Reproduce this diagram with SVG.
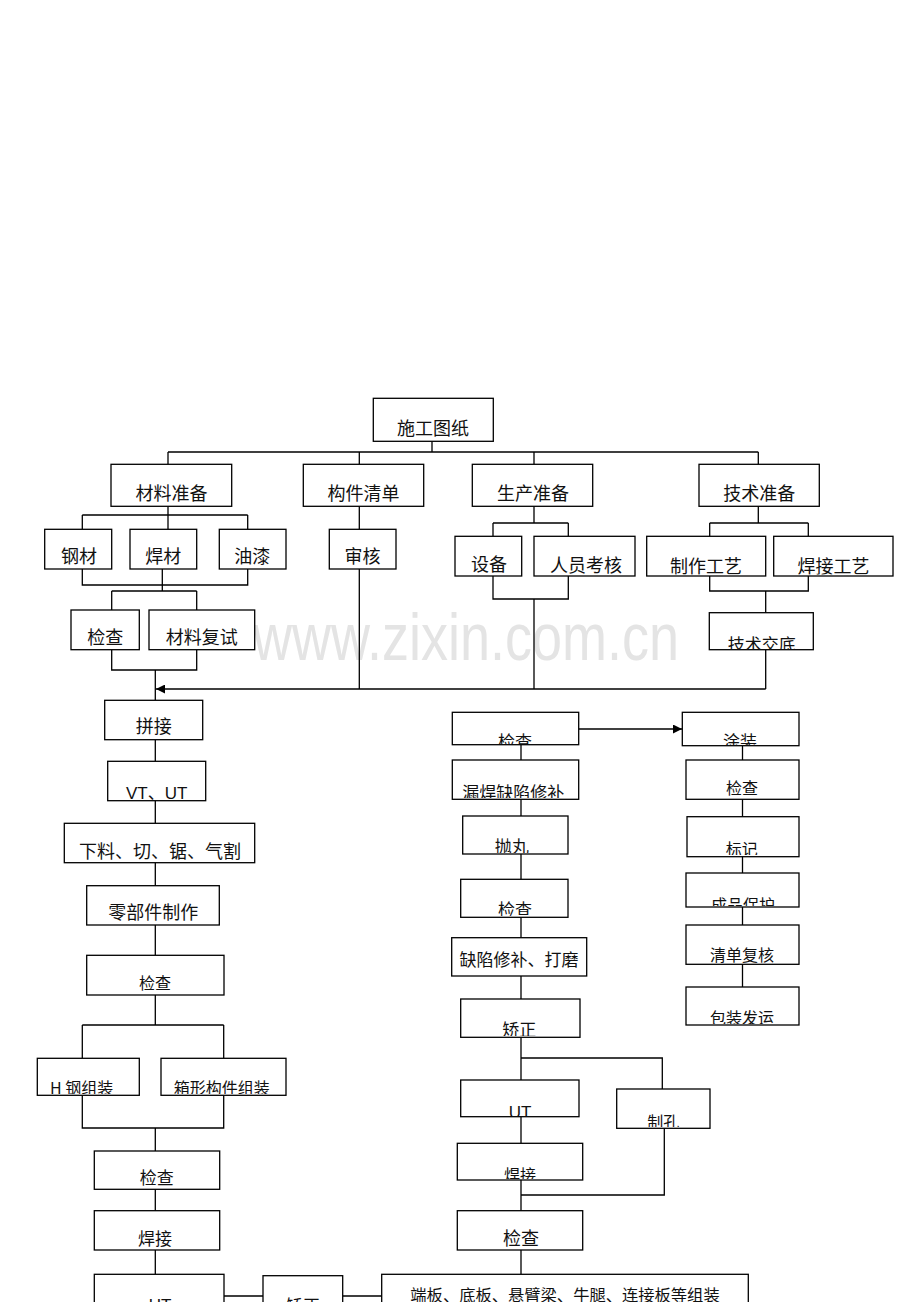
<svg xmlns="http://www.w3.org/2000/svg" width="920" height="1302" viewBox="0 0 920 1302">
<style>
.b{fill:#fff;stroke:#000;stroke-width:1.3}
.c{fill:none;stroke:#000;stroke-width:1.3}
.t{font-family:"Noto Sans CJK SC","Liberation Sans",sans-serif;font-size:17px;fill:#111;text-anchor:middle}
.s{font-size:16px}
.l{font-size:18px}
.w{font-family:"Liberation Sans",Arial,sans-serif;font-size:54px;fill:#e4e4e4}
</style>
<defs>
<marker id="ah" viewBox="0 0 10 10" refX="10" refY="5" markerWidth="10" markerHeight="9" markerUnits="userSpaceOnUse" orient="auto">
<path d="M0,0 L10,5 L0,10 z" fill="#000"/>
</marker>
<clipPath id="k1"><rect x="374" y="399" width="118" height="41"/></clipPath>
<clipPath id="k2"><rect x="112" y="465" width="119" height="40"/></clipPath>
<clipPath id="k3"><rect x="304" y="465" width="119" height="40"/></clipPath>
<clipPath id="k4"><rect x="473" y="465" width="119" height="40"/></clipPath>
<clipPath id="k5"><rect x="700" y="465" width="118" height="40"/></clipPath>
<clipPath id="k6"><rect x="46" y="530" width="65" height="38"/></clipPath>
<clipPath id="k7"><rect x="131" y="530" width="65" height="38"/></clipPath>
<clipPath id="k8"><rect x="220" y="530" width="65" height="38"/></clipPath>
<clipPath id="k9"><rect x="330" y="530" width="65" height="38"/></clipPath>
<clipPath id="k10"><rect x="72" y="611" width="66" height="38"/></clipPath>
<clipPath id="k11"><rect x="150" y="611" width="104" height="38"/></clipPath>
<clipPath id="k12"><rect x="456" y="537" width="65" height="38"/></clipPath>
<clipPath id="k13"><rect x="535" y="537" width="99" height="38"/></clipPath>
<clipPath id="k14"><rect x="648" y="537" width="117" height="37.5"/></clipPath>
<clipPath id="k15"><rect x="775" y="537" width="117" height="37.5"/></clipPath>
<clipPath id="k16"><rect x="710" y="614" width="102" height="35"/></clipPath>
<clipPath id="k17"><rect x="106" y="701" width="96" height="38"/></clipPath>
<clipPath id="k18"><rect x="109" y="762" width="96" height="38"/></clipPath>
<clipPath id="k19"><rect x="65" y="824" width="188" height="38"/></clipPath>
<clipPath id="k20"><rect x="88" y="887" width="130" height="37"/></clipPath>
<clipPath id="k21"><rect x="88" y="956" width="135" height="38"/></clipPath>
<clipPath id="k22"><rect x="38" y="1059" width="100" height="35"/></clipPath>
<clipPath id="k23"><rect x="162" y="1059" width="123" height="35"/></clipPath>
<clipPath id="k24"><rect x="95" y="1152" width="124" height="36"/></clipPath>
<clipPath id="k25"><rect x="95" y="1212" width="124" height="37"/></clipPath>
<clipPath id="k29"><rect x="453" y="713" width="125" height="31"/></clipPath>
<clipPath id="k30"><rect x="683" y="713" width="115" height="32"/></clipPath>
<clipPath id="k31"><rect x="453" y="761" width="125" height="37"/></clipPath>
<clipPath id="k32"><rect x="464" y="817" width="103" height="36"/></clipPath>
<clipPath id="k33"><rect x="462" y="880" width="105" height="36"/></clipPath>
<clipPath id="k34"><rect x="453" y="939" width="133" height="36"/></clipPath>
<clipPath id="k35"><rect x="462" y="1000" width="117" height="36"/></clipPath>
<clipPath id="k36"><rect x="687" y="761" width="111" height="37"/></clipPath>
<clipPath id="k37"><rect x="688" y="818" width="110" height="37"/></clipPath>
<clipPath id="k38"><rect x="687" y="874" width="111" height="32"/></clipPath>
<clipPath id="k39"><rect x="687" y="926" width="111" height="37"/></clipPath>
<clipPath id="k40"><rect x="687" y="988" width="111" height="36"/></clipPath>
<clipPath id="k41"><rect x="462" y="1081" width="116" height="35"/></clipPath>
<clipPath id="k42"><rect x="618" y="1090" width="91" height="37"/></clipPath>
<clipPath id="k43"><rect x="458" y="1144" width="124" height="35"/></clipPath>
<clipPath id="k44"><rect x="458" y="1212" width="124" height="37"/></clipPath>
</defs>
<rect x="0" y="0" width="920" height="1302" fill="#fff"/>
<text class="w" x="0" y="0" transform="translate(253,660) scale(1,1.25)">www.zixin.com.cn</text>

<g id="connectors">
<path class="c" d="M432,441 V452 M168,452 H758.3 M168,452 V464 M359.3,452 V464 M534,452 V464 M758.3,452 V464"/>
<path class="c" d="M168,506 V515 M82.3,515 H247.7 M82.3,515 V529 M168,515 V529 M247.7,515 V529"/>
<path class="c" d="M82.3,569 V585 H247.7 V569 M162.3,569 V591 M111.7,591 H196.7 M111.7,591 V610 M196.7,591 V610"/>
<path class="c" d="M111.7,650 V670 H196.7 V650 M155.3,670 V700"/>
<path class="c" d="M359.3,506 V529 M359.3,569 V689"/>
<path class="c" d="M534,506 V523 M493,523 H568.3 M493,523 V536 M568.3,523 V536 M493,576 V599 H568.3 V576 M534,599 V689"/>
<path class="c" d="M758.3,506 V523 M709.7,523 H808.3 M709.7,523 V536 M808.3,523 V536 M709.7,576 V591 H808.3 V576 M765.7,591 V613 M765.7,650 V689"/>
<path class="c" d="M765.7,689 H156" marker-end="url(#ah)"/>
<path class="c" d="M155.3,740 V761 M155.3,801 V823 M155.3,863 V886 M155.3,925 V955 M155.3,995 V1025 M82.3,1025 H223.7 M82.3,1025 V1058 M223.7,1025 V1058"/>
<path class="c" d="M82.3,1095 V1128 H223.7 V1095 M155.3,1128 V1151 M155.3,1189 V1211 M155.3,1250 V1274"/>
<path class="c" d="M224,1296 H263 M343,1296 H382"/>
<path class="c" d="M579,729 H682" marker-end="url(#ah)"/>
<path class="c" d="M521,745 V760 M521,799 V816 M521,854 V879 M521,917 V938 M521,976 V999 M521,1037 V1080 M521,1058 H662.3 V1089 M521,1117 V1143 M521,1180 V1211 M664.3,1128 V1195 H521 M521,1250 V1274"/>
<path class="c" d="M742.5,746 V760 M742.5,799 V817 M742.5,856 V873 M742.5,907 V925 M742.5,964 V987"/>
</g>

<g id="n1"><rect class="b" x="373.3" y="398.3" width="120" height="43"/><text class="t l" x="433" y="435" clip-path="url(#k1)">施工图纸</text></g>
<g id="n2"><rect class="b" x="111" y="464.3" width="120.7" height="42"/><text class="t l" x="171.5" y="500" clip-path="url(#k2)">材料准备</text></g>
<g id="n3"><rect class="b" x="303.3" y="464.3" width="120.4" height="42"/><text class="t l" x="363.5" y="500" clip-path="url(#k3)">构件清单</text></g>
<g id="n4"><rect class="b" x="472.3" y="464.3" width="120.4" height="42"/><text class="t l" x="533" y="500" clip-path="url(#k4)">生产准备</text></g>
<g id="n5"><rect class="b" x="699" y="464.3" width="120.3" height="42"/><text class="t l" x="759.3" y="500" clip-path="url(#k5)">技术准备</text></g>
<g id="n6"><rect class="b" x="44.7" y="529.3" width="67" height="39.7"/><text class="t l" x="79" y="563" clip-path="url(#k6)">钢材</text></g>
<g id="n7"><rect class="b" x="130" y="529.3" width="66.7" height="39.7"/><text class="t l" x="163.3" y="563" clip-path="url(#k7)">焊材</text></g>
<g id="n8"><rect class="b" x="219.3" y="529.3" width="66.7" height="39.7"/><text class="t l" x="252.3" y="563" clip-path="url(#k8)">油漆</text></g>
<g id="n9"><rect class="b" x="329.3" y="529.3" width="66.7" height="39.7"/><text class="t l" x="362.5" y="563" clip-path="url(#k9)">审核</text></g>
<g id="n10"><rect class="b" x="71" y="610" width="68.3" height="39.7"/><text class="t l" x="105.3" y="644" clip-path="url(#k10)">检查</text></g>
<g id="n11"><rect class="b" x="149" y="610" width="105.7" height="39.7"/><text class="t l" x="201.7" y="644" clip-path="url(#k11)">材料复试</text></g>
<g id="n12"><rect class="b" x="455" y="536.3" width="66.7" height="39.7"/><text class="t l" x="489" y="571" clip-path="url(#k12)">设备</text></g>
<g id="n13"><rect class="b" x="534" y="536.3" width="101" height="39.7"/><text class="t l" x="586" y="572" clip-path="url(#k13)">人员考核</text></g>
<g id="n14"><rect class="b" x="646.7" y="536.3" width="119" height="39.7"/><text class="t l" x="706" y="573" clip-path="url(#k14)">制作工艺</text></g>
<g id="n15"><rect class="b" x="773.7" y="536.3" width="119.3" height="39.7"/><text class="t l" x="833.5" y="573" clip-path="url(#k15)">焊接工艺</text></g>
<g id="n16"><rect class="b" x="709.3" y="612.7" width="104" height="37"/><text class="t" x="761.7" y="651" clip-path="url(#k16)">技术交底</text></g>
<g id="n17"><rect class="b" x="104.7" y="700.3" width="98" height="39.4"/><text class="t l" x="153.8" y="733" clip-path="url(#k17)">拼接</text></g>
<g id="n18"><rect class="b" x="107.7" y="761.3" width="98" height="39.4"/><text class="t" x="156.7" y="799" style="font-family:'Liberation Sans','Noto Sans CJK SC',sans-serif" clip-path="url(#k18)">VT、UT</text></g>
<g id="n19"><rect class="b" x="64.3" y="823.3" width="190.4" height="39.4"/><text class="t l" x="160" y="857.5" clip-path="url(#k19)">下料、切、锯、气割</text></g>
<g id="n20"><rect class="b" x="86.7" y="885.7" width="132.6" height="39.3"/><text class="t l" x="153.3" y="918.5" clip-path="url(#k20)">零部件制作</text></g>
<g id="n21"><rect class="b" x="86.7" y="955.3" width="137.3" height="39.7"/><text class="t s" x="155" y="989" clip-path="url(#k21)">检查</text></g>
<g id="n22"><rect class="b" x="37.3" y="1058.3" width="102" height="37"/><text class="t s" x="50" y="1094" style="text-anchor:start" clip-path="url(#k22)">H 钢组装</text></g>
<g id="n23"><rect class="b" x="161" y="1058.3" width="125" height="37"/><text class="t s" x="221.7" y="1094" clip-path="url(#k23)">箱形构件组装</text></g>
<g id="n24"><rect class="b" x="94.3" y="1151" width="125.4" height="38.3"/><text class="t" x="156.7" y="1184" clip-path="url(#k24)">检查</text></g>
<g id="n25"><rect class="b" x="94.3" y="1210.7" width="125.4" height="39.3"/><text class="t" x="155" y="1245" clip-path="url(#k25)">焊接</text></g>
<g id="n26"><rect class="b" x="94.3" y="1274.3" width="129.7" height="40"/><text class="t" x="160" y="1311" style="font-family:'Liberation Sans',sans-serif">UT</text></g>
<g id="n27"><rect class="b" x="263" y="1275.7" width="79.7" height="40"/><text class="t" x="303" y="1312">矫正</text></g>
<g id="n28"><rect class="b" x="381.7" y="1274.3" width="366.6" height="40"/><text class="t" x="565" y="1301" style="font-size:16.3px">端板、底板、悬臂梁、牛腿、连接板等组装</text></g>
<g id="n29"><rect class="b" x="452.3" y="712.3" width="126.4" height="32.4"/><text class="t" x="515" y="748" clip-path="url(#k29)">检查</text></g>
<g id="n30"><rect class="b" x="682.3" y="712.3" width="116.7" height="33.4"/><text class="t" x="740" y="748" clip-path="url(#k30)">涂装</text></g>
<g id="n31"><rect class="b" x="452.3" y="760" width="126.4" height="39.3"/><text class="t" x="513.3" y="798.5" clip-path="url(#k31)">漏焊缺陷修补</text></g>
<g id="n32"><rect class="b" x="462.7" y="816" width="105.3" height="38"/><text class="t" x="511.7" y="853" clip-path="url(#k32)">抛丸</text></g>
<g id="n33"><rect class="b" x="460.7" y="879.3" width="107.3" height="38"/><text class="t" x="515" y="916" clip-path="url(#k33)">检查</text></g>
<g id="n34"><rect class="b" x="451.7" y="937.7" width="135" height="38.3"/><text class="t" x="519" y="966" clip-path="url(#k34)">缺陷修补、打磨</text></g>
<g id="n35"><rect class="b" x="460.7" y="999" width="119.3" height="38.3"/><text class="t" x="519.3" y="1035.5" clip-path="url(#k35)">矫正</text></g>
<g id="n36"><rect class="b" x="686" y="760" width="113" height="39.3"/><text class="t s" x="742" y="794" clip-path="url(#k36)">检查</text></g>
<g id="n37"><rect class="b" x="687" y="816.7" width="112" height="40"/><text class="t s" x="741.7" y="855" clip-path="url(#k37)">标记</text></g>
<g id="n38"><rect class="b" x="686" y="873" width="113" height="34"/><text class="t s" x="743" y="911" clip-path="url(#k38)">成品保护</text></g>
<g id="n39"><rect class="b" x="686" y="925" width="113" height="39.3"/><text class="t s" x="742" y="960.5" clip-path="url(#k39)">清单复核</text></g>
<g id="n40"><rect class="b" x="686" y="987" width="113" height="38"/><text class="t s" x="742" y="1023.5" clip-path="url(#k40)">包装发运</text></g>
<g id="n41"><rect class="b" x="460.7" y="1080" width="118.3" height="36.7"/><text class="t" x="520" y="1118" style="font-family:'Liberation Sans',sans-serif" clip-path="url(#k41)">UT</text></g>
<g id="n42"><rect class="b" x="616.7" y="1089" width="93.3" height="39.3"/><text class="t s" x="663.3" y="1128" clip-path="url(#k42)">制孔</text></g>
<g id="n43"><rect class="b" x="457.3" y="1143.3" width="125.4" height="36.7"/><text class="t s" x="520" y="1181" clip-path="url(#k43)">焊接</text></g>
<g id="n44"><rect class="b" x="457.3" y="1210.7" width="125.4" height="39.3"/><text class="t l" x="521" y="1245" clip-path="url(#k44)">检查</text></g>
</svg>
